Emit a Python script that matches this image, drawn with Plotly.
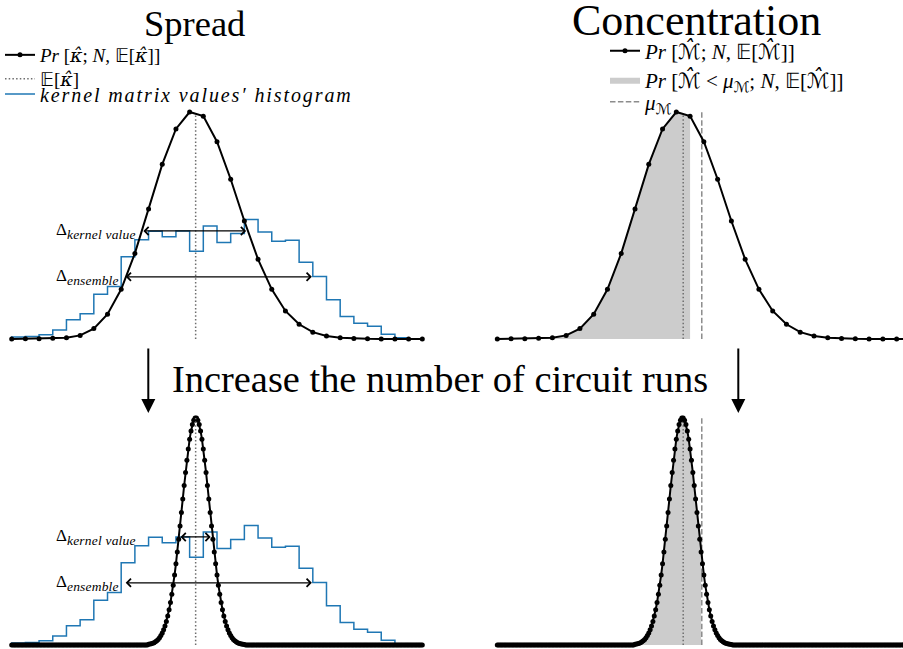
import numpy as np
import plotly.graph_objects as go

W, H = 903, 649
FONT = "Liberation Serif"
MATH = "DejaVu Serif"
CAL = "DejaVu Sans"

# ------------------------------------------------------------------ data
N_few, N_many = 30, 300
kappa_few = np.arange(N_few + 1) / N_few        # estimator grid k/N, few circuit runs
kappa_many = np.arange(N_many + 1) / N_many     # estimator grid k/N, many circuit runs

# Pr[kappa_hat; N, E] (k = 0..30)
pr_few = [0.0000, 0.0001, 0.0002, 0.0004, 0.0007, 0.0020, 0.0058, 0.0138, 0.0276, 0.0476,
          0.0723, 0.0971, 0.1168, 0.1262, 0.1239, 0.1097, 0.0888, 0.0656, 0.0443, 0.0276,
          0.0156, 0.0082, 0.0038, 0.0017, 0.0007, 0.0003, 0.0001, 0.0000, 0.0000, 0.0000, 0.0000]

# Pr; visible part k = 100..170, zero elsewhere
pr_many_visible = [0.00012, 0.00016, 0.00022, 0.00031, 0.00041, 0.00056, 0.00074, 0.00097, 0.00126, 0.00163,
                   0.00208, 0.00264, 0.00330, 0.00410, 0.00504, 0.00613, 0.00738, 0.00881, 0.01040, 0.01217,
                   0.01410, 0.01617, 0.01837, 0.02066, 0.02301, 0.02538, 0.02772, 0.02998, 0.03211, 0.03406,
                   0.03577, 0.03720, 0.03831, 0.03907, 0.03945, 0.03945, 0.03907, 0.03831, 0.03720, 0.03577,
                   0.03406, 0.03211, 0.02998, 0.02772, 0.02538, 0.02301, 0.02066, 0.01837, 0.01617, 0.01410,
                   0.01217, 0.01040, 0.00881, 0.00738, 0.00613, 0.00504, 0.00410, 0.00330, 0.00264, 0.00208,
                   0.00163, 0.00126, 0.00097, 0.00074, 0.00056, 0.00041, 0.00031, 0.00022, 0.00016, 0.00012,
                   0.00008]
pr_many = [0.0] * 100 + pr_many_visible + [0.0] * 130

# kernel matrix values' histogram (29 bins of width 1/30)
hist_edges = np.arange(30) / 30
hist_counts = [20, 25, 42, 90, 193, 252, 448, 525, 822, 992, 1078, 1023, 1080, 877, 1130,
               964, 1054, 1195, 1070, 978, 988, 768, 625, 392, 225, 158, 127, 47, 13]

E_kappa = 0.448     # E[kappa_hat]
E_M = 0.45          # E[M_hat]
mu_M = 0.495        # mu_M

delta_ensemble = [0.274, 0.731]
delta_kernel_few = [0.317, 0.571]
delta_kernel_many = [0.4075, 0.4847]

# ------------------------------------------------------------------ layout geometry (pixels)
LEFT_PX0, LEFT_PPU = 11.7, 410.6
RIGHT_PX0, RIGHT_PPU = 497.3, 413.1
TOP_BASE, BOT_BASE = 339.0, 645.0
PEAK_PX = 227.0
HIST_PX = 119.5
DK_FRAC, DE_FRAC = 0.476, 0.274


def xdom(a, b, px0, ppu):
    return dict(domain=[a / W, b / W], range=[(a - px0) / ppu, (b - px0) / ppu])


def ydom(top, bot, base, peak_px, vmax):
    return dict(domain=[1 - bot / H, 1 - top / H],
                range=[(base - bot) / peak_px * vmax, (base - top) / peak_px * vmax])


pmax_few = max(pr_few)
pmax_many = max(pr_many)
cmax = max(hist_counts)

BLACK = "black"
GRAY_DOT = "rgb(110,110,110)"
GRAY_DASH = "rgb(140,140,140)"
BLUE = "#1f77b4"
FILL = "rgba(128,128,128,0.4)"

hx = [hist_edges[0]] + list(hist_edges[:-1]) + [hist_edges[-1]]
hy = [0] + hist_counts + [0]

fig = go.Figure()

ex_l = float(np.interp(E_kappa, kappa_few, pr_few))
ex_r = float(np.interp(E_M, kappa_few, pr_few))
ex_lb = float(np.interp(E_kappa, kappa_many, pr_many))
ex_rb = float(np.interp(E_M, kappa_many, pr_many))


def m(s, fam=MATH):
    return "<span style='font-family:%s'><i>%s</i></span>" % (fam, s)


KH = m("\u03ba\u0302")                 # kappa hat
MH = m("\u2133\u0302", CAL)            # calligraphic M hat
EE = "\U0001D53C"
MU = "<i>\u03bc</i><sub><span style='font-family:%s'>\u2133</span></sub>" % CAL

name_pk = "<i>Pr</i> [%s; <i>N</i>, %s[%s]]" % (KH, EE, KH)
name_ek = "%s[%s]" % (EE, KH)
name_hist = "<span style='letter-spacing:1.9px'><i>kernel matrix values\u2032 histogram</i></span>"
name_pm = "<i>Pr</i> [%s; <i>N</i>, %s[%s]]" % (MH, EE, MH)
name_fill = "<i>Pr</i> [%s &lt; %s; <i>N</i>, %s[%s]]" % (MH, MU, EE, MH)
name_mu = MU

# ---- top-left (Spread, few runs)
fig.add_trace(go.Scatter(x=hx, y=hy, mode="lines", line=dict(color=BLUE, width=1.5, shape="hv"),
                         name=name_hist, legend="legend3", xaxis="x", yaxis="y"))
fig.add_trace(go.Scatter(x=kappa_few, y=pr_few, mode="lines+markers",
                         line=dict(color=BLACK, width=2), marker=dict(color=BLACK, size=5),
                         name=name_pk, legend="legend", xaxis="x", yaxis="y5"))
fig.add_trace(go.Scatter(x=[E_kappa, E_kappa], y=[0, ex_l], mode="lines",
                         line=dict(color=GRAY_DOT, width=1.5, dash="1.5px,2.2px"),
                         name=name_ek, legend="legend2", xaxis="x", yaxis="y5"))

# ---- top-right (Concentration, few runs)
mask_few = np.array(kappa_few) < mu_M
fig.add_trace(go.Scatter(x=kappa_few[mask_few], y=np.array(pr_few)[mask_few], mode="lines",
                         fill="tozeroy", fillcolor=FILL, line=dict(width=0, color=FILL),
                         name=name_fill, legend="legend5", xaxis="x2", yaxis="y2"))
fig.add_trace(go.Scatter(x=[E_M, E_M], y=[0, ex_r], mode="lines",
                         line=dict(color=GRAY_DOT, width=1.5, dash="1.5px,2.2px"),
                         showlegend=False, xaxis="x2", yaxis="y2"))
fig.add_trace(go.Scatter(x=[mu_M, mu_M], y=[0, pmax_few], mode="lines",
                         line=dict(color=GRAY_DASH, width=1.5, dash="5.5px,2.4px"),
                         name=name_mu, legend="legend6", xaxis="x2", yaxis="y2"))
fig.add_trace(go.Scatter(x=kappa_few, y=pr_few, mode="lines+markers",
                         line=dict(color=BLACK, width=2), marker=dict(color=BLACK, size=5),
                         name=name_pm, legend="legend4", xaxis="x2", yaxis="y2"))

# ---- bottom-left (Spread, many runs)
fig.add_trace(go.Scatter(x=hx, y=hy, mode="lines", line=dict(color=BLUE, width=1.5, shape="hv"),
                         showlegend=False, xaxis="x3", yaxis="y3"))
fig.add_trace(go.Scatter(x=kappa_many, y=pr_many, mode="lines+markers",
                         line=dict(color=BLACK, width=2), marker=dict(color=BLACK, size=5),
                         showlegend=False, xaxis="x3", yaxis="y6"))
fig.add_trace(go.Scatter(x=[E_kappa, E_kappa], y=[0, ex_lb], mode="lines",
                         line=dict(color=GRAY_DOT, width=1.5, dash="1.5px,2.2px"),
                         showlegend=False, xaxis="x3", yaxis="y6"))

# ---- bottom-right (Concentration, many runs)
km = np.array(kappa_many)
mask_many = km < mu_M
fig.add_trace(go.Scatter(x=km[mask_many], y=np.array(pr_many)[mask_many], mode="lines",
                         fill="tozeroy", fillcolor=FILL, line=dict(width=0, color=FILL),
                         showlegend=False, xaxis="x4", yaxis="y4"))
fig.add_trace(go.Scatter(x=[E_M, E_M], y=[0, ex_rb], mode="lines",
                         line=dict(color=GRAY_DOT, width=1.5, dash="1.5px,2.2px"),
                         showlegend=False, xaxis="x4", yaxis="y4"))
fig.add_trace(go.Scatter(x=[mu_M, mu_M], y=[0, pmax_many], mode="lines",
                         line=dict(color=GRAY_DASH, width=1.5, dash="5.5px,2.4px"),
                         showlegend=False, xaxis="x4", yaxis="y4"))
fig.add_trace(go.Scatter(x=kappa_many, y=pr_many, mode="lines+markers",
                         line=dict(color=BLACK, width=2), marker=dict(color=BLACK, size=5),
                         showlegend=False, xaxis="x4", yaxis="y4"))

ax_common = dict(visible=False, fixedrange=True, showgrid=False, zeroline=False)

TOP_Y = (95, 347)
BOT_Y = (400, 649)

layout = dict(
    width=W, height=H, margin=dict(l=0, r=0, t=0, b=0),
    paper_bgcolor="white", plot_bgcolor="rgba(0,0,0,0)",
    font=dict(family=FONT, color="black"),
    xaxis=dict(**ax_common, anchor="y", **xdom(0, 450, LEFT_PX0, LEFT_PPU)),
    xaxis2=dict(**ax_common, anchor="y2", **xdom(455, 903, RIGHT_PX0, RIGHT_PPU)),
    xaxis3=dict(**ax_common, anchor="y3", **xdom(0, 450, LEFT_PX0, LEFT_PPU)),
    xaxis4=dict(**ax_common, anchor="y4", **xdom(455, 903, RIGHT_PX0, RIGHT_PPU)),
    yaxis=dict(**ax_common, anchor="x", **ydom(*TOP_Y, TOP_BASE, HIST_PX, cmax)),
    yaxis2=dict(**ax_common, anchor="x2", **ydom(*TOP_Y, TOP_BASE, PEAK_PX, pmax_few)),
    yaxis3=dict(**ax_common, anchor="x3", **ydom(*BOT_Y, BOT_BASE, HIST_PX, cmax)),
    yaxis4=dict(**ax_common, anchor="x4", **ydom(*BOT_Y, BOT_BASE, PEAK_PX, pmax_many)),
)
y5 = ydom(*TOP_Y, TOP_BASE, PEAK_PX, pmax_few)
y6 = ydom(*BOT_Y, BOT_BASE, PEAK_PX, pmax_many)
layout["yaxis5"] = dict(**ax_common, anchor="x", overlaying="y", range=y5["range"])
layout["yaxis6"] = dict(**ax_common, anchor="x3", overlaying="y3", range=y6["range"])


def leg(xpx, ypx, size=19):
    return dict(x=xpx / W, y=1 - ypx / H, xanchor="left", yanchor="middle",
                bgcolor="rgba(0,0,0,0)", borderwidth=0, itemwidth=30,
                font=dict(family=FONT, size=size, color="black"))


layout["legend"] = leg(0, 55)
layout["legend2"] = leg(0, 79)
layout["legend3"] = leg(0, 94, 20)
layout["legend4"] = leg(605, 51, 21)
layout["legend5"] = leg(605, 80, 21)
layout["legend6"] = leg(605, 102, 21)

fig.update_layout(**layout)

ann = []
ann.append(dict(text="Spread", x=194 / W, y=1 - 24 / H, xref="paper", yref="paper",
                showarrow=False, font=dict(family=FONT, size=36.5), xanchor="center", yanchor="middle"))
ann.append(dict(text="Concentration", x=696 / W, y=1 - 21 / H, xref="paper", yref="paper",
                showarrow=False, font=dict(family=FONT, size=44), xanchor="center", yanchor="middle"))
ann.append(dict(text="Increase the number of circuit runs", x=440 / W, y=1 - 379 / H,
                xref="paper", yref="paper", showarrow=False, font=dict(family=FONT, size=38.4),
                xanchor="center", yanchor="middle"))
for xa in (148.3, 738.3):
    ann.append(dict(text="", x=xa / W, y=1 - 413 / H, ax=0, ay=-66,
                    xref="paper", yref="paper", axref="pixel", ayref="pixel",
                    showarrow=True, arrowhead=2, arrowwidth=2, arrowsize=1.4, arrowcolor="black"))

SUB = "<sub><span style='font-size:13.5px; letter-spacing:0.2px'><i>%s</i></span></sub>"
for (xr, yr, pm, dk) in (("x", "y5", pmax_few, delta_kernel_few), ("x3", "y6", pmax_many, delta_kernel_many)):
    for (span, frac, label) in ((dk, DK_FRAC, "\u0394" + SUB % "kernel value"),
                                (delta_ensemble, DE_FRAC, "\u0394" + SUB % "ensemble")):
        yv = frac * pm
        ann.append(dict(text="", x=span[1], y=yv, ax=span[0], ay=yv, xref=xr, yref=yr,
                        axref=xr, ayref=yr, showarrow=True, arrowhead=4, startarrowhead=4,
                        arrowside="end+start", arrowwidth=1.2, arrowsize=1.3, startarrowsize=1.3,
                        arrowcolor="black"))
        ann.append(dict(text=label, x=0.103, y=yv, xref=xr, yref=yr, showarrow=False,
                        xanchor="left", yanchor="middle", font=dict(family=FONT, size=17)))

fig.update_layout(annotations=ann)
fig.write_html("out.html")
